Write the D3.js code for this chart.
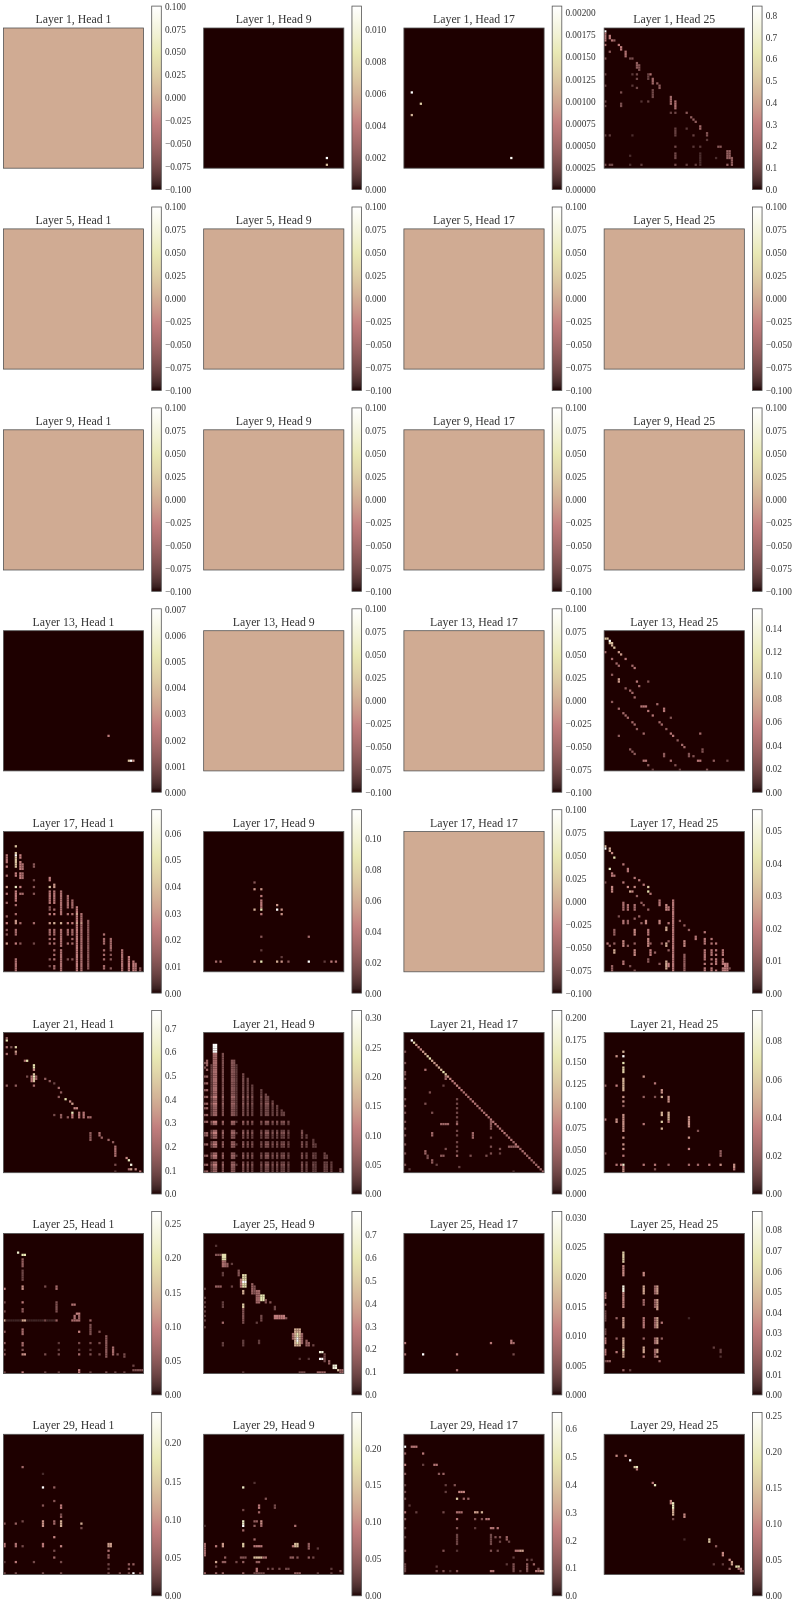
<!DOCTYPE html>
<html>
<head>
<meta charset="utf-8">
<script src="https://cdnjs.cloudflare.com/ajax/libs/d3/7.8.5/d3.min.js"></script>
<style>
  html, body { margin: 0; padding: 0; background: #fff; }
  svg { display: block; filter: blur(0.45px); }
  text { font-family: "Liberation Serif", serif; fill: #333; }
</style>
</head>
<body>
<div id="chart"></div>
<script>
var layers = [1, 5, 9, 13, 17, 21, 25, 29];
var heads = [1, 9, 17, 25];
var gridSize = 62;

// Colorbar tick labels, per panel, as printed. Flat panels share one set.
var flatTicks = ['-0.100', '-0.075', '-0.050', '-0.025', '0.000', '0.025', '0.050', '0.075', '0.100'];
var ticks1_9 = ['0.000', '0.002', '0.004', '0.006', '0.008', '0.010'];
var ticks1_17 = ['0.00000', '0.00025', '0.00050', '0.00075', '0.00100', '0.00125', '0.00150', '0.00175', '0.00200'];
var ticks1_25 = ['0.0', '0.1', '0.2', '0.3', '0.4', '0.5', '0.6', '0.7', '0.8'];
var ticks13_1 = ['0.000', '0.001', '0.002', '0.003', '0.004', '0.005', '0.006', '0.007'];
var ticks13_25 = ['0.00', '0.02', '0.04', '0.06', '0.08', '0.10', '0.12', '0.14'];
var ticks17_1 = ['0.00', '0.01', '0.02', '0.03', '0.04', '0.05', '0.06'];
var ticks17_9 = ['0.00', '0.02', '0.04', '0.06', '0.08', '0.10'];
var ticks17_25 = ['0.00', '0.01', '0.02', '0.03', '0.04', '0.05'];
var ticks21_1 = ['0.0', '0.1', '0.2', '0.3', '0.4', '0.5', '0.6', '0.7'];
var ticks21_9 = ['0.00', '0.05', '0.10', '0.15', '0.20', '0.25', '0.30'];
var ticks21_17 = ['0.000', '0.025', '0.050', '0.075', '0.100', '0.125', '0.150', '0.175', '0.200'];
var ticks21_25 = ['0.00', '0.02', '0.04', '0.06', '0.08'];
var ticks25_1 = ['0.00', '0.05', '0.10', '0.15', '0.20', '0.25'];
var ticks25_9 = ['0.0', '0.1', '0.2', '0.3', '0.4', '0.5', '0.6', '0.7'];
var ticks25_17 = ['0.000', '0.005', '0.010', '0.015', '0.020', '0.025', '0.030'];
var ticks25_25 = ['0.00', '0.01', '0.02', '0.03', '0.04', '0.05', '0.06', '0.07', '0.08'];
var ticks29_1 = ['0.00', '0.05', '0.10', '0.15', '0.20'];
var ticks29_9 = ['0.00', '0.05', '0.10', '0.15', '0.20'];
var ticks29_17 = ['0.0', '0.1', '0.2', '0.3', '0.4', '0.5', '0.6'];
var ticks29_25 = ['0.00', '0.05', '0.10', '0.15', '0.20', '0.25'];

// Attention cells: [columns, rows, value].
// Columns and rows are strings of single indices and a-b runs.
var cells1_9 = [[54, '57', 0.0114], [54, '60', 0.0065]];
var cells1_17 = [[3, '28', 0.00207], [7, '33', 0.0013], [3, '38', 0.0011], [47, '57', 0.002]];
var cells1_25 = [
  [0, '1', 0.84], [0, '2-5', 0.26], [2, '3-4', 0.3], [3, '5', 0.26], [4, '5', 0.17], [0, '7', 0.22], [2, '10', 0.16],
  [6, '7', 0.28], [7, '8', 0.3], [7, '9', 0.3], [9, '10-12', 0.25], [11, '13', 0.1], [12, '13', 0.12], [14, '15-17', 0.17], [15, '16-17', 0.14],
  [15, '18', 0.12], [0, '13', 0.12], ['19-20', '20', 0.25], [21, '22-24', 0.21], [23, '24', 0.17], [24, '25-26', 0.17],
  [21, '27-30', 0.1], [0, '20 25 32 34', 0.08], [7, '28 33 34', 0.12], [12, '20 25', 0.06], [14, '20 22', 0.1],
  [14, '26', 0.1], [19, '20-22', 0.08], [19, '32', 0.08], [16, '32', 0.05], [29, '30-33', 0.21], [31, '32-35', 0.25],
  [31, '37', 0.1], [29, '37', 0.08], [36, '37', 0.15], [38, '39', 0.17], [39, '40', 0.17], [40, '41', 0.17], [42, '43-44', 0.21],
  [45, '46-47', 0.13], [31, '44-47', 0.08], [36, '44', 0.06], [39, '47', 0.08], [45, '49', 0.06], ['50-51', '52', 0.15],
  ['54-55', '54-57', 0.18], [54, '60', 0.17], [56, '57-60', 0.17], ['0 2 3', '60', 0.1], ['0 2', '47', 0.07], [12, '47', 0.04],
  [31, '52 55 56 57 60', 0.1], ['36 40 16', '60', 0.07], [11, '56 60', 0.04], ['42 39', '52', 0.06], [42, '55-60', 0.04], [49, '57', 0.04]
];
var cells13_1 = [[46, '46', 0.0025], [55, '57', 0.004], [56, '57', 0.007], [57, '57', 0.003]];
var cells13_25 = [
  ['0-1', '3', 0.09], [2, '4', 0.15], ['2-3', '5', 0.09], [3, '6', 0.08], [4, '7', 0.09], [0, '9', 0.04], [6, '9', 0.07], [7, '10', 0.07],
  [9, '12', 0.05], [3, '12', 0.04], [5, '14', 0.04], [6, '15', 0.04], [12, '15', 0.04], [13, '16', 0.05], [3, '19', 0.03],
  [6, '21-22', 0.07], [14, '22', 0.05], [15, '24', 0.04], [19, '22', 0.025], [9, '25', 0.03], [11, '26', 0.04], [12, '27', 0.04],
  [13, '29', 0.04], ['16-18', '33', 0.05], [19, '35', 0.05], [21, '37', 0.05], [23, '32', 0.04],
  [26, '34-35', 0.05], [3, '31', 0.03], [6, '34', 0.04], [8, '36', 0.04], [9, '37', 0.04], [10, '38', 0.04],
  [12, '40', 0.04], [13, '41', 0.04], [14, '43', 0.03], [17, '45', 0.04], [6, '46', 0.03], [24, '40', 0.04], [25, '41', 0.04],
  [27, '43', 0.03], [29, '45', 0.05], [30, '46', 0.05], [32, '48', 0.03], [34, '50', 0.04], [35, '51', 0.04], [42, '45', 0.04],
  [29, '38', 0.025], [37, '54-55', 0.025], [39, '55', 0.025], [43, '52-53', 0.025], ['41-42', '57', 0.05], [48, '57', 0.03],
  [54, '57', 0.015], [11, '52', 0.03], [12, '53', 0.03], [13, '54', 0.03], ['17-18', '57', 0.05], [19, '59', 0.03],
  [26, '54-55', 0.03], [29, '57', 0.04], [21, '61', 0.015], [33, '61', 0.015], [45, '61', 0.025], [31, '59', 0.025]
];
var cells17_1 = [
  [5, '6', 0.04], [5, '9-15', 0.04], [5, '10', 0.068], [5, '18-19', 0.025], [5, '24', 0.055], [5, '26-30', 0.025], [5, '32 36', 0.018],
  [5, '39-40', 0.03], [5, '43-45', 0.018], [5, '49', 0.025], [5, '56-61', 0.02],
  [1, '10-13', 0.02], [1, '15', 0.025], [1, '19', 0.018], [1, '24', 0.03], [1, '27', 0.02], [1, '31 37', 0.015], [1, '40', 0.025],
  [1, '43 45', 0.012], [1, '49', 0.03],
  [7, '10-11', 0.025], [7, '13-16', 0.025], [7, '18-20', 0.025], [7, '24', 0.025], [7, '27', 0.02], [7, '40', 0.018], [7, '49', 0.012],
  [8, '14-16', 0.02], [8, '18-20', 0.018], [8, '27', 0.018],
  [13, '14-15', 0.012], [13, '21', 0.008], [13, '24 27', 0.012], [13, '40', 0.018], [13, '49', 0.008],
  [20, '20-21', 0.025], [20, '24', 0.04], [20, '26-31', 0.022], [20, '33-34', 0.012], [20, '36', 0.025], [20, '40', 0.03], [20, '43-45 47 49', 0.018],
  [20, '56', 0.012], [20, '59', 0.008],
  [22, '23-24', 0.03], [22, '26-31', 0.022], [22, '34', 0.018], [22, '36', 0.025], [22, '40', 0.035], [22, '43-45', 0.018], [22, '47 49', 0.02],
  [22, '52 54', 0.018], [22, '56', 0.02], [22, '59-60', 0.018],
  [25, '26-36', 0.02], [25, '40', 0.035], [25, '43-50', 0.02], [25, '52-61', 0.02],
  [28, '28-33', 0.018], [28, '36', 0.02], [28, '40', 0.025], [28, '43-45 49', 0.018], [28, '56', 0.01],
  [30, '30-33', 0.018], [30, '36', 0.02], [30, '40', 0.025], [30, '43-45 47 49', 0.018], [30, '56', 0.012],
  [32, '33-61', 0.024], [32, '36 40', 0.032], [34, '36-61', 0.02], [34, '40', 0.03], [37, '39-60', 0.013],
  [44, '45', 0.02], [44, '47-49 52 54 56 59 60', 0.018], [47, '47-51', 0.018], [47, '52 54 56 60', 0.012],
  [52, '52-61', 0.02], [55, '55-61', 0.025], [57, '57-61', 0.025], [58, '58-61', 0.02], [60, '60-61', 0.012]
];
var cells17_9 = [
  [22, '22', 0.02], [22, '25', 0.05], [25, '25', 0.05], [25, '28', 0.04], [25, '30-33', 0.04], [25, '34', 0.09], [22, '34', 0.06],
  [25, '36', 0.04], [32, '32', 0.05], [32, '34', 0.118], [34, '34', 0.05], [34, '36', 0.05], [25, '46', 0.02], [46, '46', 0.03],
  [25, '52', 0.01], [34, '55', 0.01], [5, '57', 0.03], [7, '57', 0.035], [22, '57', 0.05], [25, '57', 0.09], [32, '57', 0.06],
  [34, '57', 0.05], [37, '57', 0.02], [46, '57', 0.118], [53, '57', 0.01], [56, '57', 0.04], [58, '57', 0.035]
];
var cells17_25 = [
  [0, '6', 0.03], [0, '7', 0.056], [2, '7-8', 0.028], [3, '9', 0.022], [4, '11', 0.04], [2, '16', 0.045], [8, '14', 0.018], [10, '16-17', 0.018],
  [3, '18-19', 0.018], [4, '19', 0.018], [13, '20', 0.018], [15, '21', 0.018], [17, '23', 0.018], [19, '24', 0.035], [19, '26', 0.04], [20, '27', 0.018],
  [8, '22', 0.018], [10, '24', 0.022], [13, '24', 0.022], [11, '26', 0.028], [12, '26', 0.022], [14, '28', 0.012], [3, '24-26', 0.022],
  [0, '22', 0.008], [8, '31-34', 0.016], [10, '32-34', 0.016], [13, '32-34', 0.016], [16, '31', 0.012], [17, '32', 0.012], [19, '34', 0.012],
  [24, '30-32', 0.018], [27, '32-34', 0.022], [28, '33-34', 0.018], [30, '30-61', 0.018], [6, '37', 0.008], [8, '39-40', 0.018], [10, '39-40', 0.012],
  [13, '38', 0.012], [15, '37', 0.012], [18, '39-40', 0.022], [16, '40', 0.012], [24, '39-40', 0.022], [28, '40', 0.018],
  [27, '42-43', 0.028], [33, '39', 0.01], [35, '41', 0.012], [37, '43', 0.012], [4, '43-45', 0.012], [13, '43-45', 0.022],
  [19, '43-45', 0.018], [40, '46-47', 0.018], [44, '44 47-49 52-56 58 60 61', 0.018], [47, '47 49 52-54 56 58 60 61', 0.018],
  [49, '49 52 54 56-58 61', 0.018], [52, '52-54 56-58 60 61', 0.018], ['53-54', '58-61', 0.02], [55, '60', 0.008],
  [1, '49', 0.018], [2, '50', 0.012], [4, '49', 0.012], [4, '52-53', 0.028], [8, '48-50', 0.022], [10, '50', 0.012], [13, '52-54', 0.022],
  [13, '49', 0.012], [19, '47-50', 0.022], [20, '49', 0.012], [20, '52-54', 0.02], [22, '53', 0.012], [25, '49', 0.012], [27, '49-50', 0.028],
  [28, '48', 0.012], [28, '52', 0.012], [27, '57-60', 0.028], [28, '58-59', 0.02], [35, '48-50', 0.022], [35, '54-61', 0.012], [8, '57-58', 0.018],
  [3, '59-61', 0.012], [11, '59', 0.008], [13, '61', 0.008], [19, '56-57', 0.01], [24, '58', 0.01]
];
var cells21_1 = [
  [1, '3', 0.55], [1, '2', 0.15], [1, '6', 0.2], [3, '6', 0.1], [5, '6', 0.5], [5, '8', 0.35], [1, '9', 0.2], [5, '9', 0.15],
  [10, '12', 0.55], [9, '12', 0.2], [13, '14-15', 0.55], [13, '16', 0.3], [13, '18-21', 0.45], [13, '19', 0.6], [12, '19-21', 0.25],
  [14, '19-20', 0.18], [10, '19', 0.1], [18, '20', 0.15], [20, '21', 0.15], [22, '22', 0.08], ['1 5', '23', 0.15], [13, '23', 0.2],
  [24, '24', 0.2], [25, '26', 0.15], [24, '28', 0.15], [27, '29', 0.55], [29, '30', 0.3], [30, '31', 0.35], ['31-32', '33', 0.3],
  [30, '35', 0.6], [30, '36-37', 0.28], [33, '35-37', 0.25], [35, '35-37', 0.25], ['37-38', '37', 0.2], [28, '37', 0.15], [25, '36-37', 0.15],
  [22, '36', 0.1], [38, '44-47', 0.15], [42, '44-45', 0.22], [43, '46', 0.18], [46, '47', 0.18], [48, '48', 0.15], [49, '50-54', 0.22],
  [49, '58', 0.1], [54, '55', 0.3], [55, '56', 0.6], [56, '58', 0.7], [56, '60', 0.35], [58, '60', 0.3], [60, '61', 0.25], [49, '61', 0.05], [55, '60', 0.2]
];
var cells21_9 = [
  ['4-5', '5-8', 0.31], ['4-5', '9-26', 0.085], ['4-5', '27-36 39 40 43-46 48-50 53-55 57-61', 0.07], ['4-5', '28 31 39 44 49 54 58', 0.115],
  [0, '13 15 19 22 25 28 31 33 36 39 44 45 49 54 58 61', 0.05], [1, '12-14 16 19 22 25 28 31 33 36 39 44 45 49 54 58 61', 0.07],
  [3, '14-36 39 40 43-46 48-50 53-55 57-61', 0.03], [3, '28 31 39 44 49 54 58', 0.055],
  [8, '9-36 39 40 43-46 48-50 53-55 57-61', 0.045], [8, '28 31 39 44 49 54 58', 0.07],
  [12, '12-36 39 40 43-46 48-50 53-55 57-61', 0.055], [13, '12-36 39 40 43-46 48-50 53-55 57-61', 0.05], ['12-13', '28 31 39 44 49 54 58', 0.075], [14, '14-36 39 44 49 54 58', 0.025],
  [17, '18-36 39 40 43-46 48-50 53-55 57-61', 0.042], [17, '28 31 39 44 49 54 58', 0.065], [19, '20-36 39 40 43-46 48-50 53-55 57-61', 0.035], [19, '28 31 39 44 49 54 58', 0.055],
  [21, '23-36 39 40 43-46 48-50 53-55 57-61', 0.03], [21, '28 31 39 44 49 54 58', 0.05], [25, '25-36 39 40 43-46 48-50 53-55 57-61', 0.03], [25, '28 31 39 44 49 54 58', 0.05],
  [27, '27-36 39 40 43-46 48-50 53-55 57-61', 0.04], [28, '28-36 39 40 43-46 48-50 53-55 57-61', 0.035], ['27-28', '31 39 44 49 54 58', 0.06], [30, '30-36 39 40 43-46 48-50 53-55 57-61', 0.03], [30, '31 39 44 49 54 58', 0.05],
  [32, '32-36 39 40 43-46 48-50 53-55 57-61', 0.03], [32, '39 44 49 54 58', 0.05], [34, '34-36 39 40 43-46 48-50 53-55 57-61', 0.03], [35, '35 36 39 40 43-46 48-50 53-55 57-61', 0.03], ['34-35', '39 44 49 54 58', 0.05],
  [37, '39 40 43-46 48-50 53-55 57-61', 0.025], [37, '39 44 49 54 58', 0.04],
  [43, '43-46 48-50 53-55 57-61', 0.035], [43, '44 49 54 58', 0.05], [45, '45 46 48-50 53-55 57-61', 0.03], [45, '49 54 58', 0.042], [48, '47 48-50 53-55 57-61', 0.025], [48, '49 54 58', 0.04],
  [49, '49 50 53-55 57-61', 0.025], [53, '53-55 57-61', 0.035], [54, '54 55 57-61', 0.028], [56, '57-61', 0.028], [60, '60-61', 0.05]
];
var cells21_17 = [
  [0, '8 13 17 18 20 24 29 32 35 39 42 45 49 53 58', 0.03], [9, '16', 0.06], [18, '19-20', 0.05], [17, '23', 0.02], [24, '24', 0.05],
  [11, '26', 0.03], [9, '31', 0.03], [23, '29 31 33 35 37 39 43 45 48 50 52', 0.025], [23, '40 54', 0.05], [12, '35', 0.03],
  ['16-19', '40', 0.05], [12, '44-45', 0.05], [30, '44-46', 0.05], [38, '39-42', 0.04], [38, '46', 0.025], [9, '52-53', 0.05],
  [10, '54-55', 0.03], [12, '56-57', 0.04], ['16-17', '54', 0.04], [18, '51', 0.03], [29, '54', 0.03], [36, '54', 0.03], [38, '53', 0.03],
  [38, '50', 0.03], [42, '51', 0.03], [42, '53', 0.02], ['46-49', '50', 0.04], [14, '58', 0.02], [2, '60', 0.015], [24, '59', 0.02], [48, '61', 0.01]
];
// Main diagonal of Layer 21, Head 17, from cell 3 to cell 61.
var diag21_17 = [
  0.208, 0.14, 0.09, 0.08, 0.08, 0.09, 0.1, 0.13, 0.15, 0.1, 0.09, 0.09, 0.1, 0.11, 0.15, 0.12, 0.09, 0.08, 0.07, 0.07,
  0.08, 0.07, 0.07, 0.06, 0.06, 0.06, 0.06, 0.07, 0.06, 0.06, 0.06, 0.06, 0.06, 0.07, 0.06, 0.07, 0.06, 0.07, 0.06, 0.06,
  0.06, 0.07, 0.05, 0.06, 0.06, 0.05, 0.07, 0.06, 0.05, 0.06, 0.06, 0.05, 0.06, 0.05, 0.05, 0.05, 0.06, 0.05, 0.05
];
var cells21_25 = [
  [8, '8', 0.05], [8, '10', 0.095], [8, '13', 0.07], [8, '15-17', 0.06], [8, '20-25', 0.05], [8, '28 30', 0.04], [8, '32', 0.02],
  [8, '36-43', 0.04], [8, '46 49 51', 0.04], [8, '54', 0.03], [8, '58', 0.08], [8, '59', 0.03], [8, '60-61', 0.04],
  [5, '10', 0.04], [5, '23', 0.035], [0, '23', 0.02], [0, '38', 0.03], [5, '38-39', 0.04], [0, '53', 0.015], ['5 7', '58', 0.03],
  [17, '19', 0.04], [17, '28', 0.02], [22, '22', 0.03], [22, '28', 0.015], [25, '25-26', 0.04], [25, '28', 0.05], [28, '28-30', 0.04],
  [25, '35-36', 0.05], [28, '35-38', 0.05], [25, '39', 0.06], [28, '39', 0.03], [25, '42', 0.05], [17, '40', 0.03], [37, '37-41', 0.04],
  [41, '43', 0.015], [37, '46', 0.04], [37, '51', 0.035], [51, '52-54', 0.02], [51, '58', 0.04], ['17 22', '58', 0.03], [28, '58', 0.02],
  ['37 41', '58', 0.025], [46, '58', 0.03], [57, '58-59', 0.04], [57, '60', 0.03], [22, '60', 0.015]
];
var cells25_1 = [
  [6, '8', 0.22], ['8-9', '9', 0.2], [8, '11-14', 0.055], [8, '16-20', 0.03], [0, '24', 0.09], [8, '23-24', 0.11], [18, '23', 0.035],
  [23, '23-24', 0.07], [0, '30', 0.03], [8, '30', 0.09], [8, '33-34', 0.05], [0, '34', 0.035], [23, '30-34', 0.04], ['30-31', '31', 0.08],
  ['32-33', '35', 0.1], [31, '36-38', 0.08], [33, '36-38', 0.06], [0, '38', 0.13], ['8-9', '38', 0.13], ['1-7 10-17', '38', 0.008], [18, '38', 0.035],
  ['19-22', '38', 0.008], [23, '38', 0.06], ['30-33', '38', 0.07], [38, '38', 0.06], [38, '40-44', 0.04], [33, '43', 0.1], [42, '43', 0.04],
  [0, '43', 0.05], [8, '42-44', 0.07], [8, '48-49', 0.07], [0, '48', 0.05], [24, '48', 0.02], [33, '48', 0.035], [38, '48', 0.035], [42, '48', 0.035],
  [45, '45-54', 0.05], [48, '50-53', 0.07], [50, '53', 0.04], [53, '53-54', 0.035], [0, '53', 0.05], ['8-9', '53', 0.11], [18, '53', 0.035], [24, '53', 0.035],
  [33, '53', 0.07], [38, '53', 0.04], [42, '53', 0.035], [8, '51', 0.04], ['0 24 33 38', '51', 0.02], [57, '58', 0.03], ['57-61', '60', 0.04],
  [0, '61', 0.03], [8, '61', 0.09], [18, '61', 0.025], [24, '61', 0.025], [33, '60-61', 0.09], [38, '61', 0.025], [45, '61', 0.035], ['49 53', '61', 0.025]
];
var cells25_9 = [
  [5, '5', 0.05], ['5-7', '9', 0.13], ['8-9', '9-11', 0.55], [8, '12-14', 0.22], [9, '12-14', 0.18], [10, '13-14', 0.17], [12, '13', 0.07], [8, '17-18', 0.07],
  [15, '16-18', 0.13], ['17-18', '18-23', 0.55], ['17-18', '21', 0.8], [16, '20-23', 0.25], [17, '25-26', 0.4], ['5-7', '23', 0.17], [12, '23', 0.08],
  [21, '22-26', 0.18], [22, '23-26', 0.13], ['23-24', '25-30', 0.2], ['25-26', '27-29', 0.6], [27, '29-30', 0.13], [29, '30', 0.13], [31, '32-33', 0.09],
  ['31-32', '36-37', 0.28], ['33-35', '36-37', 0.28], [36, '37', 0.13], [17, '31-32', 0.5], [17, '33-38', 0.13], [8, '30-32', 0.07], [8, '39', 0.2],
  [17, '39', 0.1], [25, '36-38', 0.1], [23, '39', 0.07], [0, '24 28 30 32 34 36 38 41', 0.07], ['40-42', '42-49', 0.4], [41, '44-48', 0.6], [41, '46-47', 0.78],
  ['39', '44-46', 0.2], ['43', '44-48', 0.17], [45, '47-49', 0.17], [46, '48-49', 0.17], [48, '49', 0.09], ['51-52', '52', 0.7], ['51-52', '55', 0.8], [53, '53-56', 0.1],
  [55, '56-57', 0.17], ['57-58', '58-59', 0.7], [59, '60', 0.45], ['60-61', '60-61', 0.18], [8, '48-49', 0.07], [17, '47-49', 0.07], [24, '47-48', 0.07],
  [42, '55', 0.05], [46, '55', 0.05], ['50-53', '61', 0.18], ['42-44', '61', 0.09], [17, '61', 0.05]
];
var cells25_17 = [
  [0, '48', 0.01], [8, '53', 0.031], [0, '53', 0.008], [23, '53', 0.012], [23, '60', 0.008], [38, '48', 0.01], [47, '47-48', 0.01], [48, '48', 0.008], [48, '53', 0.004]
];
var cells25_25 = [
  [8, '8-12', 0.055], [8, '14-18', 0.035], [8, '23-25', 0.08], [8, '26-32', 0.035], [8, '37-41', 0.04], [8, '46-54', 0.042], [8, '51', 0.07], [8, '60', 0.02],
  [17, '17-18', 0.035], [17, '23-26', 0.042], [17, '29-31', 0.022], [17, '37-41', 0.028], [17, '46', 0.02], [17, '50-52', 0.042], [17, '54', 0.028],
  [23, '23-26', 0.04], [23, '29-33', 0.04], [23, '37-41', 0.042], [23, '46-48', 0.04], [23, '51-52', 0.042], [23, '54', 0.04],
  [22, '23-26', 0.02], [22, '29-32', 0.018], [22, '37-41', 0.02], [22, '46-48', 0.02], [22, '51-54', 0.02],
  [0, '26-28', 0.028], [0, '31', 0.018], [0, '34-38', 0.01], [0, '42-44', 0.01], [0, '46-48', 0.028], [0, '51-53', 0.028], [0, '56', 0.01],
  ['1-2', '56', 0.018], [5, '37', 0.018], [5, '46', 0.018], [5, '52', 0.028], [25, '39', 0.028], [25, '46', 0.018], [24, '56', 0.018], [11, '60', 0.008],
  [48, '50', 0.008], [51, '51-52', 0.008], [51, '54', 0.005], [37, '37', 0.003]
];
var cells29_1 = [
  [8, '14', 0.06], [17, '17', 0.01], [17, '23', 0.24], [22, '23', 0.05], [22, '29', 0.04], [17, '31', 0.04], [25, '31-32', 0.08], [25, '35', 0.03], [25, '36', 0.05],
  [0, '39', 0.04], [5, '39', 0.05], [8, '38', 0.03], [17, '38-40', 0.1], [22, '38-39', 0.06], [25, '38-40', 0.12], [34, '39', 0.12], [34, '41', 0.03], [22, '45', 0.09],
  [0, '48-49', 0.08], [5, '48-49', 0.07], [8, '49', 0.03], [17, '48-49', 0.08], [25, '49', 0.09], [22, '51', 0.03], [22, '54', 0.06], ['46-47', '48-49', 0.11],
  [46, '51', 0.07], [46, '53-54', 0.05], [46, '57', 0.03], [46, '59', 0.02], [0, '56', 0.015], [5, '56', 0.08], [13, '56', 0.03], [25, '56', 0.03], [55, '57', 0.05],
  [57, '57', 0.05], [55, '59', 0.04], [57, '61', 0.24], [60, '61', 0.05], [55, '61', 0.03], ['0 5 17 25 46 51', '61', 0.03]
];
var cells29_9 = [
  [17, '23', 0.2], [22, '21', 0.015], [27, '28', 0.04], [24, '31-32', 0.08], [24, '34', 0.06], [31, '31-32', 0.03], [17, '33', 0.03], [17, '38-39', 0.2],
  [17, '40', 0.25], [17, '42', 0.06], ['22-23', '38', 0.05], [25, '38-39', 0.1], [22, '40', 0.05], [25, '40', 0.06], [40, '40', 0.07], [0, '40', 0.01], [22, '46', 0.06],
  [0, '48-53', 0.07], [5, '49', 0.08], [8, '48-49', 0.11], [17, '48-49', 0.15], ['22-25', '49', 0.08], ['40-41', '48-49', 0.14], [39, '49', 0.08], [46, '48-50', 0.05], [50, '50', 0.02],
  [9, '54', 0.05], ['16-18', '54', 0.04], ['22-25', '54', 0.14], ['26-27', '54', 0.07], ['38-39', '54', 0.05], [41, '54', 0.04], [46, '54', 0.05], [48, '54', 0.03],
  [5, '56', 0.12], [5, '58', 0.03], ['8-9', '56', 0.05], [14, '56', 0.03], [17, '56', 0.05], ['23-24', '56', 0.05], [23, '59-60', 0.08], ['28 30 33 36 37', '59', 0.03],
  [56, '59', 0.02], [60, '60', 0.03], [0, '61', 0.06], ['5 8 17', '61', 0.05], ['22-26', '61', 0.03], ['40-42', '61', 0.05], ['50 56', '61', 0.02]
];
var cells29_17 = [
  [0, '5', 0.66], ['3-4', '5', 0.2], [5, '5', 0.22], [8, '8', 0.22], [0, '8', 0.15], [0, '13', 0.25], [8, '13', 0.06], ['13-14', '13', 0.2], [0, '17', 0.12], [15, '17', 0.12],
  [17, '17', 0.15], [0, '22', 0.06], [18, '22', 0.06], [22, '22', 0.1], [0, '25', 0.08], [18, '25', 0.06], ['24-26', '25', 0.25], [0, '28', 0.08], [23, '28', 0.4], [26, '28', 0.15],
  [28, '28', 0.15], [2, '31', 0.05], [0, '34', 0.2], [5, '34', 0.06], [17, '34', 0.08], ['23-25', '34', 0.18], ['31-32', '34', 0.3], [34, '34', 0.35], [0, '37', 0.1], [23, '37', 0.2],
  [31, '37', 0.1], [34, '37', 0.1], ['36-37', '37', 0.2], [0, '41', 0.06], [23, '41', 0.1], [31, '41', 0.05], ['38-39', '41', 0.2], [41, '41', 0.2], [0, '45', 0.05], [23, '44-48', 0.07],
  [38, '44-48', 0.08], [40, '45', 0.1], [42, '45', 0.1], [45, '45-46', 0.15], [42, '47', 0.07], [46, '47', 0.07], [0, '51', 0.1], [17, '51', 0.1], [23, '51', 0.04], [38, '51', 0.1],
  [41, '51', 0.08], ['49-50', '51', 0.2], ['51-52', '51', 0.3], [48, '54', 0.05], [54, '55', 0.08], [56, '55', 0.05], [54, '57-59', 0.12], [48, '57-59', 0.1], [57, '57', 0.15],
  [59, '59', 0.1], [45, '57', 0.05], [14, '58', 0.05], [14, '60', 0.08], [17, '60', 0.1], [20, '60', 0.03], [23, '60', 0.1], ['38-39', '60', 0.2], [48, '60', 0.08], [51, '60', 0.05],
  [54, '60', 0.08], ['58-59', '60', 0.2], ['60-61', '60', 0.3], [0, '57-60', 0.07]
];
var cells29_25 = [
  [5, '9', 0.1], [9, '9', 0.1], [11, '11', 0.255], [13, '14', 0.15], [14, '14', 0.2], [14, '15', 0.08], [21, '21', 0.08], [22, '22', 0.2], [29, '29-30', 0.1], [30, '30-32', 0.2], [30, '33', 0.12],
  [30, '34-35', 0.13], [30, '37', 0.03], [35, '35-36', 0.1], [35, '46', 0.01], [46, '46-47', 0.15], [49, '49', 0.05], [52, '52-53', 0.1], [55, '55', 0.1], [56, '56-57', 0.12], ['58-59', '58', 0.18],
  ['59-60', '59', 0.06], [48, '57', 0.02], [52, '57', 0.02], [55, '59', 0.05], ['60-61', '60', 0.04]
];

// Panels: rows of the grid are layers, columns are heads. Flat panels are all zero.
var flat = { cells: [], ticks: flatTicks, min: -0.1, max: 0.1 };
var panels = [
  [flat, { cells: cells1_9, ticks: ticks1_9, min: 0, max: 0.01143 }, { cells: cells1_17, ticks: ticks1_17, min: 0, max: 0.002076 }, { cells: cells1_25, ticks: ticks1_25, min: 0, max: 0.8428 }],
  [flat, flat, flat, flat],
  [flat, flat, flat, flat],
  [{ cells: cells13_1, ticks: ticks13_1, min: 0, max: 0.00703 }, flat, flat, { cells: cells13_25, ticks: ticks13_25, min: 0, max: 0.1566 }],
  [{ cells: cells17_1, ticks: ticks17_1, min: 0, max: 0.0689 }, { cells: cells17_9, ticks: ticks17_9, min: 0, max: 0.1184 }, flat, { cells: cells17_25, ticks: ticks17_25, min: 0, max: 0.0565 }],
  [{ cells: cells21_1, ticks: ticks21_1, min: 0, max: 0.775 }, { cells: cells21_9, ticks: ticks21_9, min: 0, max: 0.312 }, { cells: cells21_17, diag: diag21_17, ticks: ticks21_17, min: 0, max: 0.208 }, { cells: cells21_25, ticks: ticks21_25, min: 0, max: 0.0957 }],
  [{ cells: cells25_1, ticks: ticks25_1, min: 0, max: 0.2675 }, { cells: cells25_9, ticks: ticks25_9, min: 0, max: 0.799 }, { cells: cells25_17, ticks: ticks25_17, min: 0, max: 0.031 }, { cells: cells25_25, ticks: ticks25_25, min: 0, max: 0.0889 }],
  [{ cells: cells29_1, ticks: ticks29_1, min: 0, max: 0.2397 }, { cells: cells29_9, ticks: ticks29_9, min: 0, max: 0.2483 }, { cells: cells29_17, ticks: ticks29_17, min: 0, max: 0.659 }, { cells: cells29_25, ticks: ticks29_25, min: 0, max: 0.255 }]
];

var width = 797;
var height = 1605;
var size = 140.2;
var stepX = 200.25;
var stepY = 200.9;
var left = 3.4;
var top0 = 28;
var barOffset = 148.3;
var barWidth = 9.6;
var barUp = 21.9;
var barHeight = 183.4;

// matplotlib "pink" map: sqrt((2 * gray + hot) / 3)
function pink(t) {
  var r = Math.min(1, 0.0416 + t * 2.63);
  var g = Math.max(0, Math.min(1, (t - 0.365) * 2.63));
  var b = Math.max(0, (t - 0.746) * 3.94);
  var c = function(h) { return Math.round(255 * Math.sqrt((2 * t + h) / 3)); };
  return 'rgb(' + c(r) + ',' + c(g) + ',' + c(Math.min(1, b)) + ')';
}

// "3 5-7" -> [3, 5, 6, 7]
function expand(spec) {
  var out = [];
  String(spec).split(' ').forEach(function(part) {
    var ends = part.split('-').map(Number);
    d3.range(ends[0], (ends.length > 1 ? ends[1] : ends[0]) + 1).forEach(function(i) { out.push(i); });
  });
  return out;
}

// Flatten a panel's cell lists; a later entry replaces an earlier one on the same cell.
function panelCells(panel) {
  var byCell = new Map();
  panel.cells.forEach(function(c) {
    expand(c[0]).forEach(function(col) {
      expand(c[1]).forEach(function(row) {
        byCell.set(col + ':' + row, { col: col, row: row, value: c[2] });
      });
    });
  });
  (panel.diag || []).forEach(function(v, i) {
    byCell.set((i + 3) + ':' + (i + 3), { col: i + 3, row: i + 3, value: v });
  });
  return Array.from(byCell.values());
}

var svg = d3.select('#chart').append('svg')
  .attr('width', width)
  .attr('height', height);
var defs = svg.append('defs');

var band = d3.scaleBand().domain(d3.range(gridSize)).range([0, size]);

layers.forEach(function(layer, li) {
  heads.forEach(function(head, hi) {
    var panel = panels[li][hi];
    var color = d3.scaleSequential(pink).domain([panel.min, panel.max]);
    var g = svg.append('g')
      .attr('transform', 'translate(' + (left + hi * stepX) + ',' + (top0 + li * stepY) + ')');

    g.append('text')
      .attr('x', size / 2)
      .attr('y', -5)
      .attr('text-anchor', 'middle')
      .style('font-size', '11.8px')
      .text('Layer ' + layer + ', Head ' + head);

    g.append('rect')
      .attr('width', size)
      .attr('height', size)
      .attr('fill', color(0));

    g.selectAll('rect.cell').data(panelCells(panel)).enter()
      .append('rect')
      .attr('class', 'cell')
      .attr('x', function(d) { return band(d.col); })
      .attr('y', function(d) { return band(d.row); })
      .attr('width', band.bandwidth())
      .attr('height', band.bandwidth())
      .attr('fill', function(d) { return color(d.value); });

    g.append('rect')
      .attr('width', size)
      .attr('height', size)
      .attr('fill', 'none')
      .attr('stroke', '#555')
      .attr('stroke-width', 0.8);

    // Colorbar
    var id = 'bar' + li + '_' + hi;
    var grad = defs.append('linearGradient').attr('id', id)
      .attr('x1', 0).attr('y1', 1).attr('x2', 0).attr('y2', 0);
    d3.range(0, 1.0001, 0.025).forEach(function(t) {
      grad.append('stop').attr('offset', t).attr('stop-color', pink(t));
    });

    var bar = g.append('g')
      .attr('transform', 'translate(' + barOffset + ',' + (-barUp) + ')');
    bar.append('rect')
      .attr('width', barWidth)
      .attr('height', barHeight)
      .attr('fill', 'url(#' + id + ')')
      .attr('stroke', '#555')
      .attr('stroke-width', 0.8);

    var y = d3.scaleLinear().domain([panel.min, panel.max]).range([barHeight, 0]);
    var axis = d3.axisRight(y)
      .tickValues(panel.ticks.map(Number))
      .tickSize(0)
      .tickPadding(3.6)
      .tickFormat(function(d, i) { return panel.ticks[i].replace('-', '\u2212'); });
    bar.append('g')
      .attr('transform', 'translate(' + barWidth + ',0)')
      .call(axis)
      .call(function(a) { a.select('.domain').remove(); })
      .selectAll('text')
      .style('font-family', '"Liberation Serif", serif')
      .style('font-size', '9.3px')
      .style('fill', '#333');
  });
});
</script>
</body>
</html>
